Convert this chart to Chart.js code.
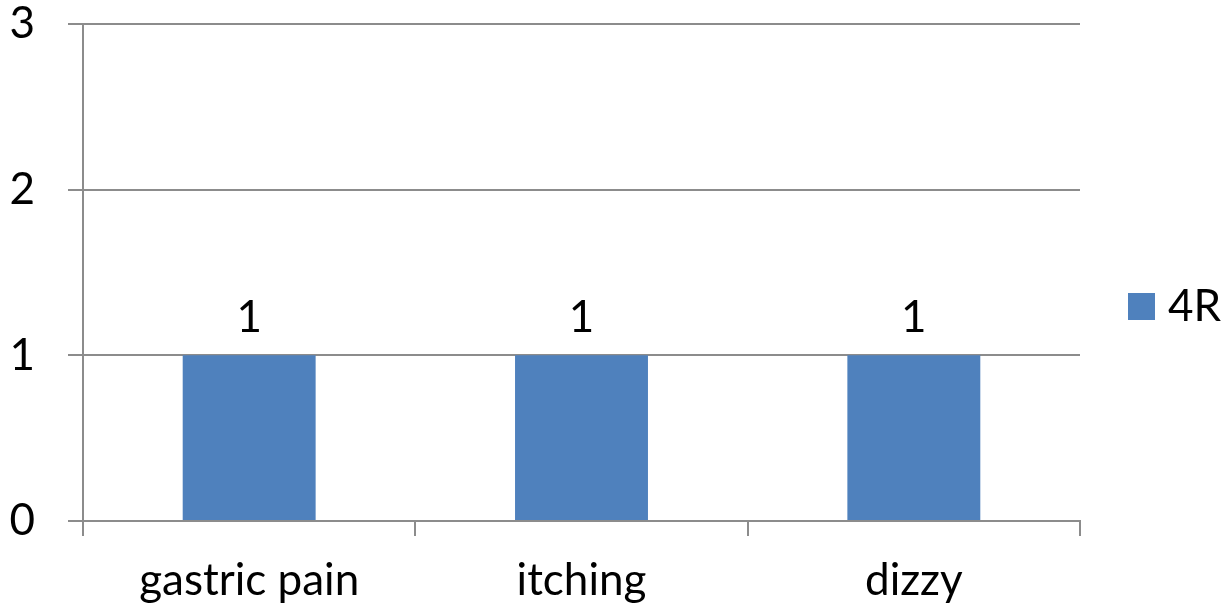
<!DOCTYPE html>
<html>
<head>
<meta charset="utf-8">
<script src="https://cdn.jsdelivr.net/npm/chart.js@4"></script>
<style>
  html, body { margin: 0; padding: 0; background: #ffffff; }
  #wrap { width: 1224px; height: 613px; }
</style>
</head>
<body>
<div id="wrap"><canvas id="c" width="1224" height="613"></canvas></div>
<script>
// Symptom counts for the 4R group
const categories = ["gastric pain", "itching", "dizzy"];
const seriesName = "4R";
const seriesValues = [1, 1, 1];
const yTicks = [0, 1, 2, 3];

const FONT = "Lato, 'Open Sans', sans-serif";
const FONT_SIZE = 44;
const GRID = "#8c8c8c";
const BAR_COLOR = "#4f81bd";

// Writes each bar's value just above it
const valueLabels = {
  id: "valueLabels",
  afterDatasetsDraw(chart) {
    const ctx = chart.ctx;
    ctx.save();
    ctx.font = FONT_SIZE + "px " + FONT;
    ctx.fillStyle = "#000";
    ctx.textAlign = "center";
    ctx.textBaseline = "alphabetic";
    chart.data.datasets.forEach((ds, i) => {
      chart.getDatasetMeta(i).data.forEach((bar, j) => {
        ctx.fillText(String(ds.data[j]), bar.x, bar.y - 23);
      });
    });
    ctx.restore();
  }
};

// Series key in the right-hand margin, vertically centred on the canvas
const sideLegend = {
  id: "sideLegend",
  afterDraw(chart) {
    const ctx = chart.ctx;
    const box = 27;
    const x = chart.chartArea.right + 48;
    const cy = chart.height / 2;
    ctx.save();
    chart.data.datasets.forEach((ds) => {
      ctx.fillStyle = ds.backgroundColor;
      ctx.fillRect(x, cy - box / 2, box, box);
      ctx.fillStyle = "#000";
      ctx.font = FONT_SIZE + "px " + FONT;
      ctx.textAlign = "left";
      ctx.textBaseline = "middle";
      ctx.fillText(ds.label, x + box + 13, cy);
    });
    ctx.restore();
  }
};

new Chart(document.getElementById("c"), {
  type: "bar",
  data: {
    labels: categories,
    datasets: [{
      label: seriesName,
      data: seriesValues,
      backgroundColor: BAR_COLOR,
      borderWidth: 0,
      categoryPercentage: 0.4,
      barPercentage: 1.0
    }]
  },
  options: {
    responsive: false,
    animation: false,
    devicePixelRatio: 1,
    layout: { padding: { top: 0, right: 144, left: 0, bottom: 0 } },
    plugins: {
      legend: { display: false },
      tooltip: { enabled: false }
    },
    scales: {
      x: {
        afterFit(scale) { scale.height = 92; },
        grid: {
          offset: true,
          drawOnChartArea: false,
          color: GRID,
          lineWidth: 2,
          tickLength: 15
        },
        border: { color: GRID, width: 2 },
        ticks: {
          color: "#000",
          font: { family: FONT, size: FONT_SIZE },
          padding: 18,
          maxRotation: 0
        }
      },
      y: {
        min: 0,
        max: 3,
        afterFit(scale) {
          scale.width = 83;
          scale.paddingTop = 24;
          scale.paddingBottom = 0;
        },
        afterBuildTicks(scale) {
          scale.ticks = yTicks.map(v => ({ value: v }));
        },
        grid: {
          color: GRID,
          lineWidth: 2,
          tickLength: 15
        },
        border: { color: GRID, width: 2 },
        ticks: {
          color: "#000",
          font: { family: FONT, size: FONT_SIZE },
          padding: 33
        }
      }
    }
  },
  plugins: [valueLabels, sideLegend]
});
</script>
</body>
</html>
